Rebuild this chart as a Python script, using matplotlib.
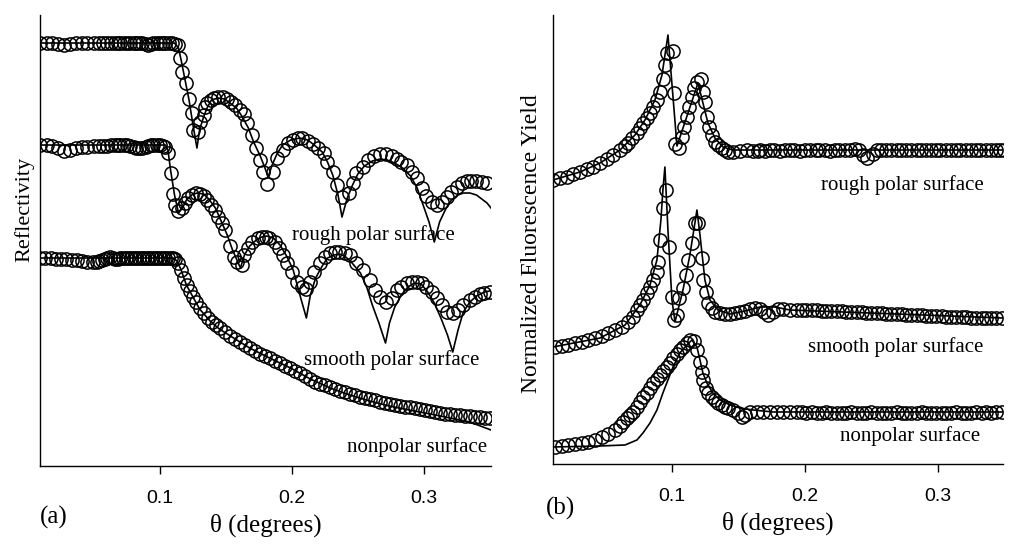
import matplotlib
matplotlib.use("Agg")
import matplotlib.pyplot as plt

plt.rcParams['font.family'] = ['Liberation Serif', 'DejaVu Serif']

# ---------------- panel (a): reflectivity (arbitrary offset units) ----------------
rough_a_x = [0.009, 0.014, 0.018, 0.023, 0.027, 0.032, 0.036, 0.041, 0.045, 0.050,
             0.054, 0.057, 0.060, 0.063, 0.066, 0.068, 0.070, 0.073, 0.075, 0.077,
             0.080, 0.082, 0.084, 0.086, 0.089, 0.091, 0.093, 0.095, 0.098, 0.100,
             0.102, 0.104, 0.107, 0.109, 0.111, 0.114,
             0.115, 0.117, 0.120, 0.122, 0.124, 0.125, 0.129, 0.130, 0.133, 0.134,
             0.136, 0.139, 0.141, 0.144, 0.148, 0.151, 0.154, 0.157, 0.161, 0.164,
             0.166, 0.170, 0.173, 0.176, 0.178, 0.181, 0.186, 0.189, 0.193, 0.197,
             0.201, 0.205, 0.208, 0.212, 0.216, 0.220, 0.224, 0.227, 0.231, 0.234,
             0.238, 0.243, 0.246, 0.249, 0.254, 0.258, 0.262, 0.267, 0.271, 0.276,
             0.280, 0.283, 0.287, 0.291, 0.295, 0.299, 0.302, 0.306, 0.310, 0.314,
             0.318, 0.321, 0.325, 0.329, 0.333, 0.336, 0.340, 0.344, 0.348]
rough_a_y = [423, 423, 423, 422, 421, 422, 423, 423, 423, 423,
             423, 423, 423, 423, 423, 423, 423, 423, 423, 423,
             423, 423, 423, 423, 422, 421, 422, 423, 423, 423,
             423, 423, 423, 423, 422, 421,
             408, 394, 383, 367, 353, 336, 334, 344, 351, 359,
             363, 366, 368, 369, 369, 367, 364, 361, 356, 352,
             343, 331, 318, 306, 294, 282, 294, 308, 316, 323,
             326, 328, 328, 325, 322, 318, 313, 304, 294, 281,
             269, 273, 283, 293, 299, 306, 310, 312, 312, 310,
             307, 304, 301, 294, 288, 278, 270, 264, 261, 264,
             269, 274, 279, 283, 285, 285, 285, 284, 283]
rough_a_fit_x = [0.009, 0.111, 0.114, 0.116, 0.119, 0.122, 0.125, 0.128, 0.130, 0.133,
                 0.136, 0.139, 0.144, 0.149, 0.153, 0.158, 0.162, 0.167, 0.171, 0.176,
                 0.179, 0.182, 0.185, 0.189, 0.193, 0.199, 0.206, 0.212, 0.217, 0.223,
                 0.227, 0.231, 0.235, 0.238, 0.242, 0.246, 0.250, 0.255, 0.261, 0.267,
                 0.272, 0.278, 0.284, 0.290, 0.295, 0.299, 0.304, 0.308, 0.312, 0.317,
                 0.321, 0.326, 0.330, 0.335, 0.340, 0.344, 0.348, 0.351]
rough_a_fit_y = [423, 423, 418, 406, 386, 366, 341, 318, 336, 349,
                 359, 366, 368, 367, 363, 358, 350, 338, 324, 310,
                 300, 289, 301, 313, 321, 326, 328, 326, 321, 314,
                 304, 291, 271, 249, 268, 281, 292, 300, 305, 307,
                 306, 303, 298, 290, 278, 263, 244, 224, 244, 258,
                 266, 271, 273, 273, 271, 267, 263, 258]

smooth_a_x = [0.009, 0.014, 0.018, 0.023, 0.027, 0.032, 0.036, 0.041, 0.045, 0.050,
              0.054, 0.057, 0.060, 0.063, 0.066, 0.068, 0.070, 0.073, 0.075, 0.077,
              0.080, 0.082, 0.084, 0.086, 0.089, 0.091, 0.093, 0.095, 0.098, 0.100,
              0.102, 0.104,
              0.106, 0.108, 0.110, 0.111, 0.114, 0.117, 0.119, 0.121, 0.124, 0.127,
              0.130, 0.133, 0.136, 0.139, 0.142, 0.144, 0.147, 0.149, 0.153, 0.156,
              0.158, 0.162, 0.164, 0.167, 0.170, 0.174, 0.177, 0.180, 0.183, 0.187,
              0.190, 0.193, 0.196, 0.200, 0.204, 0.208, 0.211, 0.214, 0.217, 0.221,
              0.225, 0.229, 0.233, 0.236, 0.240, 0.244, 0.249, 0.254, 0.259, 0.263,
              0.267, 0.271, 0.276, 0.280, 0.283, 0.287, 0.291, 0.295, 0.299, 0.302,
              0.306, 0.310, 0.314, 0.318, 0.322, 0.326, 0.330, 0.335, 0.339, 0.343,
              0.346, 0.350]
smooth_a_y = [321, 321, 320, 318, 315, 316, 318, 319, 319, 320,
              320, 320, 320, 321, 321, 321, 321, 321, 321, 320,
              319, 318, 318, 318, 319, 320, 321, 321, 321, 321,
              320, 319,
              313, 293, 272, 261, 255, 258, 263, 268, 271, 273,
              272, 270, 266, 261, 256, 249, 243, 236, 220, 209,
              204, 201, 211, 218, 224, 228, 229, 229, 228, 224,
              218, 211, 203, 194, 184, 179, 177, 184, 194, 203,
              209, 213, 214, 214, 213, 211, 203, 196, 186, 176,
              169, 164, 168, 176, 179, 183, 184, 184, 183, 179,
              174, 168, 161, 154, 153, 156, 161, 166, 169, 172,
              173, 174]
smooth_a_fit_x = [0.009, 0.104, 0.106, 0.108, 0.111, 0.114, 0.117, 0.120, 0.124, 0.128,
                  0.133, 0.137, 0.142, 0.146, 0.151, 0.155, 0.161, 0.164, 0.168, 0.173,
                  0.177, 0.181, 0.186, 0.191, 0.196, 0.201, 0.205, 0.211, 0.214, 0.218,
                  0.223, 0.227, 0.232, 0.236, 0.240, 0.245, 0.252, 0.257, 0.261, 0.266,
                  0.271, 0.274, 0.278, 0.283, 0.288, 0.293, 0.298, 0.303, 0.308, 0.313,
                  0.318, 0.322, 0.326, 0.330, 0.335, 0.340, 0.346, 0.350]
smooth_a_fit_y = [321, 321, 316, 296, 271, 253, 258, 266, 271, 273,
                  272, 267, 258, 246, 231, 216, 198, 211, 220, 226,
                  229, 230, 228, 221, 210, 196, 176, 148, 171, 188,
                  200, 208, 211, 212, 210, 204, 193, 178, 161, 143,
                  123, 143, 159, 171, 179, 183, 182, 174, 163, 148,
                  131, 114, 136, 154, 164, 170, 174, 175]

nonpolar_a_x = [0.009, 0.013, 0.017, 0.021, 0.025, 0.029, 0.033, 0.037, 0.041, 0.045,
                0.049, 0.052, 0.054, 0.056, 0.058, 0.060, 0.062, 0.064, 0.066, 0.068,
                0.070, 0.072, 0.074, 0.076, 0.078, 0.080, 0.082, 0.084, 0.086, 0.088,
                0.090, 0.092, 0.094, 0.096, 0.098, 0.100, 0.102, 0.104, 0.106, 0.108,
                0.110,
                0.1114, 0.1136, 0.1159, 0.1182, 0.1205, 0.1227, 0.1250, 0.1273, 0.1303, 0.1333,
                0.1364, 0.1394, 0.1424, 0.1455, 0.1492, 0.1530, 0.1568, 0.1606, 0.1644, 0.1682,
                0.1720, 0.1758, 0.1795, 0.1833, 0.1871, 0.1909, 0.1947, 0.1985, 0.2023, 0.2061,
                0.2099, 0.2136, 0.2174, 0.2212, 0.2250, 0.2288, 0.2326, 0.2364, 0.2402, 0.2439,
                0.2477, 0.2515, 0.2553, 0.2591, 0.2629, 0.2667, 0.2705, 0.2742, 0.2780, 0.2818,
                0.2856, 0.2894, 0.2932, 0.2970, 0.3008, 0.3045, 0.3083, 0.3121, 0.3159, 0.3197,
                0.3235, 0.3273, 0.3311, 0.3348, 0.3386, 0.3424, 0.3462, 0.3500]
nonpolar_a_y = [208, 208, 208, 207, 207, 207, 206, 206, 205, 204,
                204, 204, 205, 206, 207, 208, 209, 208, 207, 207,
                208, 208, 208, 208, 208, 208, 208, 208, 208, 208,
                208, 208, 208, 208, 208, 208, 208, 208, 208, 208,
                208,
                207, 203, 196, 188, 181, 175, 169, 164, 158, 153,
                148, 144, 141, 138, 134, 130, 127, 124, 121, 118,
                115, 112, 110, 108, 105, 103, 100, 98, 95, 93,
                90, 87, 84, 82, 81, 79, 77, 75, 74, 72,
                71, 69, 68, 67, 66, 64, 63, 62, 61, 60,
                59, 59, 58, 57, 56, 55, 54, 53, 52, 52,
                51, 51, 50, 50, 49, 49, 48, 48]
nonpolar_a_fit_x = [0.009, 0.110, 0.113, 0.116, 0.120, 0.125, 0.130, 0.138, 0.145, 0.157,
                    0.168, 0.183, 0.199, 0.214, 0.229, 0.244, 0.259, 0.274, 0.289, 0.305,
                    0.320, 0.335, 0.351]
nonpolar_a_fit_y = [208, 208, 205, 196, 181, 169, 157, 145, 137, 127,
                    118, 108, 98, 87, 78, 71, 65, 60, 56, 52,
                    48, 44, 36]

# ---------------- panel (b): normalized fluorescence yield ----------------
rough_b_x = [0.0105, 0.0158, 0.0210, 0.0256, 0.0308, 0.0361, 0.0406, 0.0459, 0.0511, 0.0556,
             0.0609, 0.0647, 0.0669, 0.0699, 0.0737, 0.0759, 0.0782, 0.0812, 0.0835, 0.0857,
             0.0887, 0.0910, 0.0932, 0.0947, 0.0962, 0.1008, 0.1015, 0.1023, 0.1053, 0.1075,
             0.1090, 0.1113, 0.1128, 0.1150, 0.1165, 0.1188, 0.1218, 0.1233, 0.1248, 0.1263,
             0.1278, 0.1301, 0.1323, 0.1346, 0.1376, 0.1399, 0.1421, 0.1459, 0.1511, 0.1564,
             0.1609, 0.1647,
             0.166, 0.170, 0.174, 0.177, 0.181, 0.185, 0.189, 0.192, 0.196, 0.200,
             0.204, 0.208, 0.211, 0.215, 0.219, 0.223, 0.226, 0.230, 0.234, 0.238,
             0.241, 0.244, 0.247, 0.251, 0.254, 0.257, 0.261, 0.265, 0.269, 0.272,
             0.276, 0.280, 0.284, 0.287, 0.291, 0.295, 0.299, 0.302, 0.306, 0.310,
             0.314, 0.317, 0.321, 0.325, 0.329, 0.332, 0.336, 0.340, 0.344, 0.347,
             0.350]
rough_b_y = [284, 286, 287, 290, 292, 295, 297, 301, 305, 309,
             314, 318, 321, 326, 331, 336, 341, 346, 351, 357,
             364, 372, 385, 399, 411, 413, 371, 320, 316, 327,
             337, 347, 357, 367, 376, 382, 385, 372, 362, 347,
             337, 329, 322, 319, 316, 314, 312, 312, 313, 314,
             313, 313,
             314, 313, 314, 314, 313, 314, 314, 314, 313, 314,
             314, 314, 314, 314, 313, 314, 314, 314, 314, 315,
             314, 309, 306, 310, 314, 314, 314, 314, 314, 314,
             314, 314, 314, 314, 314, 314, 314, 314, 314, 314,
             314, 314, 314, 314, 314, 314, 314, 314, 314, 314,
             314]
rough_b_fit_x = [0.0105, 0.0308, 0.0459, 0.0609, 0.0722, 0.0797, 0.0872, 0.0925, 0.0970, 0.1038,
                 0.1196, 0.1233, 0.1271, 0.1323, 0.1384, 0.1459, 0.3489]
rough_b_fit_y = [284, 292, 301, 314, 329, 344, 364, 389, 429, 318,
                 381, 361, 341, 326, 317, 314, 314]

smooth_b_x = [0.0120, 0.0173, 0.0218, 0.0271, 0.0323, 0.0368, 0.0421, 0.0474, 0.0519, 0.0571,
              0.0624, 0.0669, 0.0707, 0.0737, 0.0759, 0.0782, 0.0812, 0.0835, 0.0857, 0.0887,
              0.0895, 0.0910, 0.0932, 0.0955, 0.0977, 0.1000, 0.1015, 0.1038, 0.1053, 0.1083,
              0.1105, 0.1120, 0.1150, 0.1173, 0.1196, 0.1226, 0.1233, 0.1256, 0.1271, 0.1301,
              0.1323, 0.1361, 0.1399, 0.1436, 0.1474, 0.1511, 0.1549, 0.1587, 0.1624, 0.1662,
              0.1692, 0.1722, 0.1760, 0.1797, 0.1835, 0.1887, 0.1940,
              0.198, 0.201, 0.205, 0.209, 0.213, 0.216, 0.220, 0.224, 0.228, 0.231,
              0.235, 0.239, 0.243, 0.246, 0.250, 0.254, 0.258, 0.261, 0.265, 0.269,
              0.273, 0.276, 0.280, 0.284, 0.288, 0.291, 0.295, 0.299, 0.303, 0.306,
              0.310, 0.314, 0.318, 0.321, 0.325, 0.329, 0.333, 0.336, 0.340, 0.344,
              0.348]
smooth_b_y = [117, 118, 119, 121, 122, 124, 126, 128, 131, 134,
              137, 142, 147, 154, 159, 164, 171, 177, 184, 192,
              202, 224, 256, 274, 217, 167, 144, 149, 166, 176,
              189, 204, 221, 241, 241, 206, 184, 172, 161, 156,
              152, 151, 150, 150, 151, 152, 153, 155, 156, 155,
              152, 149, 152, 155, 155, 154, 154,
              154, 154, 154, 154, 153, 153, 153, 153, 153, 152,
              152, 152, 152, 151, 151, 151, 151, 150, 150, 150,
              150, 149, 149, 149, 149, 148, 148, 148, 148, 147,
              147, 147, 147, 147, 146, 146, 146, 146, 146, 146,
              146]
smooth_b_fit_x = [0.0105, 0.0459, 0.0647, 0.0759, 0.0835, 0.0887, 0.0917, 0.0932, 0.0947, 0.0970,
                  0.1000, 0.1023, 0.1083, 0.1135, 0.1188, 0.1211, 0.1248, 0.1286, 0.1346, 0.1436,
                  0.1549, 0.1662, 0.1774, 0.1887, 0.3489]
smooth_b_fit_y = [117, 126, 139, 159, 179, 204, 244, 274, 297, 234,
                  164, 142, 174, 209, 254, 229, 184, 164, 154, 150,
                  153, 157, 157, 154, 146]

nonpolar_b_x = [0.0120, 0.0173, 0.0218, 0.0271, 0.0323, 0.0368, 0.0421, 0.0474, 0.0519, 0.0571,
                0.0609, 0.0632, 0.0662, 0.0684, 0.0707, 0.0737, 0.0759, 0.0782, 0.0812, 0.0835,
                0.0857, 0.0887, 0.0910, 0.0932, 0.0962, 0.0985, 0.1008, 0.1038, 0.1060, 0.1083,
                0.1113, 0.1135, 0.1165, 0.1188, 0.1211, 0.1226, 0.1233, 0.1256, 0.1271, 0.1301,
                0.1323, 0.1346, 0.1376, 0.1399, 0.1421, 0.1459, 0.1496, 0.1526, 0.1549, 0.1587,
                0.1639, 0.1684, 0.1737, 0.1790, 0.1835, 0.1887, 0.1940,
                0.198, 0.201, 0.205, 0.209, 0.213, 0.216, 0.220, 0.224, 0.228, 0.231,
                0.235, 0.239, 0.243, 0.246, 0.250, 0.254, 0.258, 0.261, 0.265, 0.269,
                0.273, 0.276, 0.280, 0.284, 0.288, 0.291, 0.295, 0.299, 0.303, 0.306,
                0.310, 0.314, 0.318, 0.321, 0.325, 0.329, 0.333, 0.336, 0.340, 0.344,
                0.348]
nonpolar_b_y = [17, 18, 19, 20, 21, 22, 24, 27, 30, 34,
                38, 42, 46, 49, 52, 57, 62, 67, 71, 76,
                81, 85, 89, 93, 97, 101, 106, 110, 114, 117,
                121, 124, 123, 114, 102, 92, 84, 76, 71, 67,
                64, 61, 59, 57, 56, 54, 51, 47, 49, 52,
                52, 52, 52, 52, 52, 52, 52,
                52, 51, 52, 51, 51, 52, 51, 51, 51, 51,
                52, 51, 51, 51, 52, 51, 51, 51, 51, 52,
                51, 51, 51, 51, 52, 51, 51, 51, 51, 51,
                51, 52, 51, 51, 51, 52, 51, 52, 51, 52,
                52]
nonpolar_b_fit_x = [0.0105, 0.0459, 0.0647, 0.0737, 0.0782, 0.0835, 0.0887, 0.0932, 0.0970, 0.1008,
                    0.1060, 0.1113, 0.1150, 0.1188, 0.1211, 0.1233, 0.1263, 0.1308, 0.1361, 0.1436,
                    0.1511, 0.1609, 0.1760, 0.3489]
nonpolar_b_fit_y = [17, 18, 19, 24, 31, 41, 54, 71, 84, 97,
                    111, 119, 124, 117, 104, 91, 81, 71, 64, 59,
                    56, 54, 52, 52]

xticks = [0.1, 0.2, 0.3]
xtick_labels = ['0.1', '0.2', '0.3']

fig = plt.figure(figsize=(10.21, 5.5), dpi=100)
ax_a = fig.add_axes([0.0392, 0.1527, 0.4417, 0.82])
ax_b = fig.add_axes([0.5416, 0.1564, 0.4407, 0.8163])

mk = dict(marker='o', markersize=9.5, markerfacecolor='none', markeredgecolor='black',
          markeredgewidth=1.1, linestyle='none')
fit = dict(color='black', linewidth=1.2)

for xs, ys in [(rough_a_fit_x, rough_a_fit_y), (smooth_a_fit_x, smooth_a_fit_y),
               (nonpolar_a_fit_x, nonpolar_a_fit_y)]:
    ax_a.plot(xs, ys, **fit)
for xs, ys in [(rough_a_x, rough_a_y), (smooth_a_x, smooth_a_y), (nonpolar_a_x, nonpolar_a_y)]:
    ax_a.plot(xs, ys, **mk)

for xs, ys in [(rough_b_fit_x, rough_b_fit_y), (smooth_b_fit_x, smooth_b_fit_y),
               (nonpolar_b_fit_x, nonpolar_b_fit_y)]:
    ax_b.plot(xs, ys, **fit)
for xs, ys in [(rough_b_x, rough_b_y), (smooth_b_x, smooth_b_y), (nonpolar_b_x, nonpolar_b_y)]:
    ax_b.plot(xs, ys, **mk)

ax_a.set_xlim(0.009, 0.351)
ax_a.set_ylim(0, 451)
ax_b.set_xlim(0.0105, 0.349)
ax_b.set_ylim(0, 449)

for ax in (ax_a, ax_b):
    ax.spines['top'].set_visible(False)
    ax.spines['right'].set_visible(False)
    ax.spines['left'].set_linewidth(1.0)
    ax.spines['bottom'].set_linewidth(1.0)
    ax.set_yticks([])
    ax.set_xticks(xticks)
    ax.set_xticklabels(xtick_labels, fontfamily='Liberation Sans', fontsize=14)
    ax.tick_params(axis='x', direction='out', length=6, width=1.0, pad=11)
    ax.set_xlabel('θ (degrees)', fontsize=18, labelpad=5)

ax_a.set_ylabel('Reflectivity', fontsize=16, va='center')
ax_a.yaxis.set_label_coords(-0.035, 0.568)
ax_b.set_ylabel('Normalized Fluorescence Yield', fontsize=17, va='center')
ax_b.yaxis.set_label_coords(-0.047, 0.49)

ax_a.text(0.0, -0.115, '(a)', transform=ax_a.transAxes, fontsize=18, ha='left', va='center')
ax_b.text(-0.016, -0.098, '(b)', transform=ax_b.transAxes, fontsize=18, ha='left', va='center')

ax_a.text(0.262, 231, 'rough polar surface', fontsize=15, ha='center', va='center')
ax_a.text(0.276, 106, 'smooth polar surface', fontsize=15, ha='center', va='center')
ax_a.text(0.295, 19, 'nonpolar surface', fontsize=15, ha='center', va='center')
ax_b.text(0.273, 279, 'rough polar surface', fontsize=15, ha='center', va='center')
ax_b.text(0.268, 117, 'smooth polar surface', fontsize=15, ha='center', va='center')
ax_b.text(0.279, 28, 'nonpolar surface', fontsize=15, ha='center', va='center')

fig.savefig('out.png', dpi=100)
